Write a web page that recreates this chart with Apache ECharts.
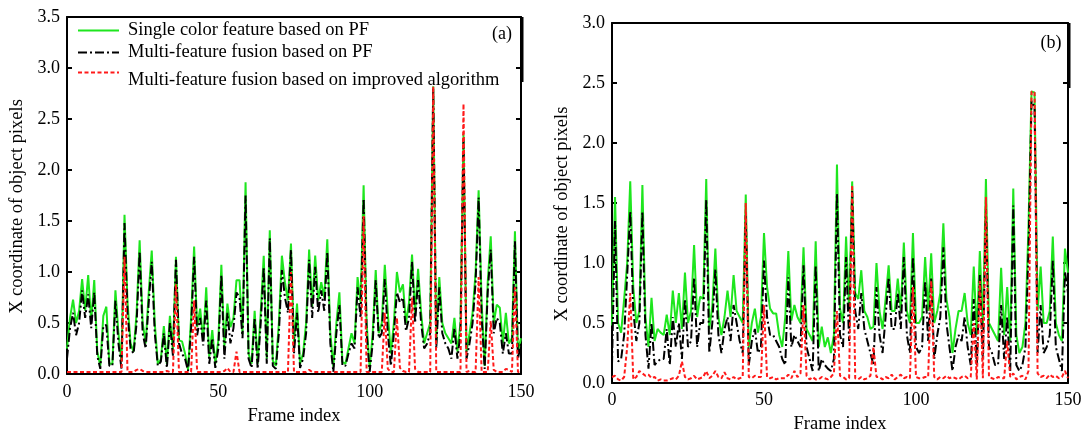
<!DOCTYPE html>
<html><head><meta charset="utf-8">
<script src="https://cdn.jsdelivr.net/npm/echarts@6/dist/echarts.min.js"></script>
<style>html,body{margin:0;padding:0;background:#fff}#c{width:1086px;height:434px}</style>
</head><body><div id="c"></div>
<script>
// ---- Data (frame index 0..150) ----
const seriesNames = ['Single color feature based on PF','Multi-feature fusion based on PF','Multi-feature fusion based on improved algorithm'];
const xTicks = [0,50,100,150];
// Chart (a)
const singleA = [0.25,0.55,0.73,0.50,0.62,0.93,0.62,0.97,0.52,0.92,
0.22,0.08,0.57,0.66,0.10,0.10,0.82,0.40,0.12,1.56,
0.70,0.30,0.22,0.60,1.31,0.50,0.30,0.80,1.21,0.50,
0.10,0.14,0.47,0.10,0.57,0.23,1.15,0.33,0.32,0.20,
0.04,0.55,1.25,0.46,0.64,0.33,0.85,0.17,0.43,0.10,
0.33,1.07,0.27,0.69,0.46,0.55,0.92,0.92,0.39,1.88,
0.20,0.10,0.62,0.10,0.60,1.16,0.15,1.41,0.13,0.08,
0.50,1.16,0.90,0.72,1.28,0.30,0.69,0.10,0.20,0.50,
1.22,0.66,1.16,0.72,0.90,0.75,1.32,0.40,0.07,0.50,
0.80,0.12,0.10,0.25,0.40,0.30,0.95,0.70,1.85,0.50,
0.05,0.40,1.02,0.40,0.50,1.07,0.60,0.20,0.50,1.00,
0.80,0.88,0.50,0.70,1.17,0.60,1.03,0.60,0.30,0.40,
0.50,2.82,0.30,0.95,0.50,0.40,0.35,0.30,0.55,0.22,
0.50,2.35,0.22,0.40,0.60,1.00,1.80,0.70,0.08,0.90,
1.35,0.50,0.68,0.65,0.30,0.60,0.30,0.35,1.40,0.22,0.35];
const multiA = [0.15,0.45,0.60,0.38,0.50,0.82,0.55,0.78,0.45,0.80,
0.18,0.05,0.47,0.48,0.08,0.08,0.72,0.30,0.05,1.48,
0.60,0.25,0.20,0.50,1.20,0.40,0.25,0.70,1.10,0.40,
0.08,0.12,0.40,0.06,0.50,0.18,1.12,0.30,0.20,0.15,
0.03,0.45,1.15,0.38,0.55,0.28,0.72,0.10,0.35,0.06,
0.25,0.97,0.15,0.60,0.30,0.45,0.80,0.75,0.35,1.75,
0.15,0.06,0.55,0.05,0.50,1.05,0.10,1.33,0.08,0.05,
0.40,1.02,0.75,0.60,1.22,0.20,0.60,0.06,0.15,0.40,
1.12,0.55,1.05,0.60,0.82,0.62,1.20,0.30,0.02,0.40,
0.68,0.08,0.08,0.20,0.30,0.25,0.85,0.55,1.72,0.40,
0.02,0.30,0.92,0.35,0.40,0.93,0.40,0.08,0.40,0.80,
0.70,0.75,0.42,0.55,1.10,0.50,0.92,0.50,0.25,0.30,
0.40,2.80,0.25,0.85,0.40,0.30,0.25,0.15,0.45,0.15,
0.40,2.30,0.15,0.30,0.50,0.90,1.73,0.55,0.05,0.80,
1.22,0.40,0.55,0.50,0.20,0.40,0.20,0.20,1.30,0.15,0.30];
const improvedA = [0.02,0.02,0.02,0.02,0.02,0.02,0.02,0.02,0.02,0.02,
0.02,0.02,0.02,0.02,0.02,0.02,0.02,0.02,0.02,1.15,
0.02,0.02,0.02,0.04,0.05,0.03,0.02,0.02,0.02,0.02,
0.02,0.02,0.02,0.03,0.02,0.02,0.88,0.02,0.02,0.02,
0.02,0.02,0.72,0.02,0.02,0.02,0.02,0.02,0.02,0.02,
0.02,0.02,0.03,0.06,0.02,0.02,0.22,0.02,0.02,0.02,
0.02,0.02,0.02,0.02,0.02,0.02,0.02,0.02,0.02,0.02,
0.02,0.02,0.02,0.02,1.00,0.02,0.02,0.02,0.02,0.02,
0.04,0.02,0.02,0.02,0.02,0.02,0.02,0.02,0.02,0.02,
0.02,0.02,0.02,0.02,0.02,0.02,0.02,0.02,1.55,0.02,
0.02,0.02,0.02,0.02,0.02,0.60,0.05,0.02,0.02,0.55,
0.06,0.03,0.02,0.02,0.75,0.05,0.02,0.02,0.02,0.02,
0.02,2.82,0.02,0.02,0.02,0.02,0.02,0.02,0.02,0.02,
0.02,2.65,0.02,0.03,0.02,0.02,0.95,0.02,0.02,0.02,
0.52,0.04,0.02,0.02,0.02,0.05,0.04,0.02,0.85,0.02,0.02];
// Chart (b)
const singleB = [0.48,1.55,0.50,0.42,0.70,1.00,1.68,0.80,0.50,0.60,
1.65,0.55,0.30,0.71,0.35,0.45,0.42,0.40,0.57,0.40,
0.77,0.50,0.75,0.45,0.92,0.50,0.60,1.15,0.55,0.72,
0.70,1.70,0.45,0.64,1.12,0.55,0.40,0.55,0.77,0.55,
0.90,0.60,0.55,0.50,1.57,0.30,0.50,0.62,0.42,0.55,
1.25,0.80,0.62,0.58,0.58,0.40,0.30,0.55,1.10,0.52,
0.65,0.55,0.50,1.13,0.45,0.40,0.35,1.18,0.30,0.47,
0.30,0.38,0.25,0.40,1.82,0.62,0.50,1.22,0.60,1.68,
0.75,0.70,0.94,0.60,0.55,0.45,0.47,1.00,0.60,0.45,
0.70,0.98,0.60,0.60,0.87,0.60,1.17,0.60,0.50,1.25,
0.50,0.50,0.55,1.05,0.60,1.08,0.50,0.60,0.75,1.33,
0.70,0.55,0.25,0.45,0.60,0.60,0.75,0.50,0.40,0.97,
0.40,1.10,0.45,1.70,0.50,0.45,0.40,0.35,0.96,0.40,
0.80,0.35,1.62,0.40,0.25,0.30,0.50,1.30,2.43,2.42,
0.60,0.97,0.50,0.50,0.60,1.22,0.50,0.40,0.35,1.12,0.92];
const multiB = [0.15,1.35,0.18,0.20,0.40,0.90,1.43,0.60,0.35,0.50,
1.43,0.40,0.12,0.50,0.15,0.18,0.20,0.20,0.45,0.15,
0.55,0.30,0.50,0.20,0.70,0.30,0.35,0.88,0.30,0.50,
0.50,1.53,0.25,0.50,0.95,0.40,0.25,0.45,0.55,0.35,
0.65,0.50,0.35,0.25,1.40,0.15,0.35,0.45,0.25,0.30,
1.02,0.55,0.40,0.40,0.35,0.30,0.20,0.15,0.88,0.30,
0.40,0.35,0.30,0.98,0.30,0.20,0.10,0.98,0.10,0.20,
0.15,0.12,0.10,0.20,1.58,0.40,0.30,1.05,0.35,1.60,
0.60,0.45,0.75,0.45,0.35,0.25,0.15,0.80,0.40,0.25,
0.55,0.88,0.45,0.45,0.75,0.45,1.05,0.40,0.25,1.05,
0.30,0.25,0.30,0.85,0.35,0.88,0.20,0.40,0.55,1.13,
0.50,0.30,0.10,0.30,0.40,0.35,0.55,0.30,0.15,0.70,
0.15,0.90,0.20,1.45,0.30,0.25,0.15,0.15,0.65,0.20,
0.55,0.10,1.48,0.15,0.10,0.15,0.30,1.10,2.35,2.30,
0.25,0.65,0.25,0.30,0.40,1.02,0.30,0.20,0.10,0.93,0.75];
const improvedB = [0.05,0.06,0.03,0.02,0.05,0.30,0.75,0.03,0.05,0.10,
0.08,0.06,0.07,0.04,0.05,0.02,0.03,0.02,0.02,0.03,
0.04,0.03,0.06,0.18,0.05,0.03,0.04,0.06,0.03,0.04,
0.05,0.10,0.04,0.06,0.10,0.05,0.04,0.09,0.04,0.03,
0.05,0.03,0.04,0.05,1.50,0.05,0.04,0.06,0.05,0.05,
0.65,0.05,0.04,0.05,0.03,0.04,0.04,0.04,0.07,0.04,
0.10,0.05,0.08,0.65,0.06,0.03,0.05,0.03,0.03,0.05,
0.04,0.03,0.05,0.08,0.60,0.06,0.05,0.03,0.04,1.65,
0.04,0.03,0.05,0.03,0.04,0.06,0.30,0.05,0.05,0.03,
0.05,0.04,0.07,0.03,0.05,0.07,0.04,0.05,0.04,0.80,
0.05,0.04,0.04,0.05,0.05,0.85,0.05,0.03,0.05,0.04,
0.06,0.04,0.05,0.04,0.03,0.05,0.06,0.04,0.05,0.50,
0.03,0.85,0.04,1.55,0.05,0.04,0.03,0.05,0.04,0.04,
0.35,0.05,0.08,0.03,0.05,0.06,0.03,0.10,2.43,2.42,
0.08,0.05,0.06,0.04,0.07,0.05,0.06,0.04,0.05,0.10,0.04];

const FONT = '"Liberation Serif","Times New Roman",serif';
const COLORS = ['#1ee61e','#000000','#ff1a1a'];
const pairs = arr => arr.map((v,i)=>[i,v]);

function xAxes(g,gap,margin){
  return [
    {gridIndex:g,type:'value',min:xTicks[0],max:xTicks[xTicks.length-1],interval:50,position:'bottom',
     axisLine:{show:true,onZero:false,lineStyle:{color:'#000',width:2}},axisTick:{show:false},splitLine:{show:false},
     axisLabel:{fontFamily:FONT,fontSize:18,color:'#000',margin:margin},
     name:'Frame index',nameLocation:'middle',nameGap:gap,nameTextStyle:{fontFamily:FONT,fontSize:18.5,color:'#000'}},
    {gridIndex:g,type:'value',min:0,max:150,position:'top',
     axisLine:{show:true,onZero:false,lineStyle:{color:'#000',width:2}},axisTick:{show:false},axisLabel:{show:false},splitLine:{show:false}}
  ];
}
function yAxes(g,max){
  return [
    {gridIndex:g,type:'value',min:0,max:max,interval:0.5,position:'left',
     axisLine:{show:true,onZero:false,lineStyle:{color:'#000',width:2}},
     axisTick:{show:true,inside:true,length:5,lineStyle:{color:'#000',width:2}},splitLine:{show:false},
     axisLabel:{fontFamily:FONT,fontSize:18,color:'#000',margin:7,formatter:v=>v.toFixed(1)},
     name:'X coordinate of object pixels',nameLocation:'middle',nameGap:40,nameRotate:90,
     nameTextStyle:{fontFamily:FONT,fontSize:18.5,color:'#000',padding:[0,22,0,0]}},
    {gridIndex:g,type:'value',min:0,max:max,interval:0.5,position:'right',
     axisLine:{show:true,onZero:false,lineStyle:{color:'#000',width:2}},
     axisTick:{show:true,inside:true,length:5,lineStyle:{color:'#000',width:2}},axisLabel:{show:false},splitLine:{show:false}}
  ];
}
function lines(g,single,multi,improved){
  const base = {type:'line',xAxisIndex:g*2,yAxisIndex:g*2,symbol:'none',showSymbol:false,animation:false};
  return [
    Object.assign({},base,{name:seriesNames[0],data:pairs(single),z:2,lineStyle:{color:COLORS[0],width:2,type:'solid'},itemStyle:{color:COLORS[0]}}),
    Object.assign({},base,{name:seriesNames[1],data:pairs(multi),z:3,lineStyle:{color:COLORS[1],width:2,type:[9,3,2,3]},itemStyle:{color:COLORS[1]}}),
    Object.assign({},base,{name:seriesNames[2],data:pairs(improved),z:4,lineStyle:{color:COLORS[2],width:2,type:[4,2.5]},itemStyle:{color:COLORS[2]}})
  ];
}
const legendText = {fontFamily:FONT,fontSize:18.5,color:'#000',padding:[0,0,0,4],lineHeight:16};
const legendBase = {orient:'horizontal',itemWidth:41,itemHeight:14,selectedMode:false,
  itemStyle:{opacity:0},textStyle:legendText};
const option = {
  animation:false,
  backgroundColor:'#fff',
  grid:[{left:67,top:17,width:454,height:357,containLabel:false,outerBoundsMode:'none'},
        {left:612,top:23,width:456,height:360,containLabel:false,outerBoundsMode:'none'}],
  xAxis:[...xAxes(0,33,9),...xAxes(1,32,8)],
  yAxis:[...yAxes(0,3.5),...yAxes(1,3.0)],
  legend:[
    Object.assign({},legendBase,{data:[seriesNames[0]],left:72,top:16}),
    Object.assign({},legendBase,{data:[seriesNames[1]],left:72,top:38}),
    Object.assign({},legendBase,{data:[seriesNames[2]],left:72,top:50,formatter:n=>'\n'+n})
  ],
  graphic:[
    {type:'text',x:502,y:34,style:{text:'(a)',font:'18px "Liberation Serif"',fill:'#000',align:'center',verticalAlign:'middle',textAlign:'center',textVerticalAlign:'middle'}},
    {type:'text',x:1051,y:43,style:{text:'(b)',font:'18px "Liberation Serif"',fill:'#000',align:'center',verticalAlign:'middle',textAlign:'center',textVerticalAlign:'middle'}},
    {type:'line',shape:{x1:522,y1:17,x2:522,y2:82},style:{stroke:'#000',lineWidth:3}},
    {type:'line',shape:{x1:1069,y1:23,x2:1069,y2:88},style:{stroke:'#000',lineWidth:3}}
  ],
  series:[...lines(0,singleA,multiA,improvedA),...lines(1,singleB,multiB,improvedB)]
};
const chart = echarts.init(document.getElementById('c'),null,{renderer:'canvas'});
chart.setOption(option);
</script></body></html>
